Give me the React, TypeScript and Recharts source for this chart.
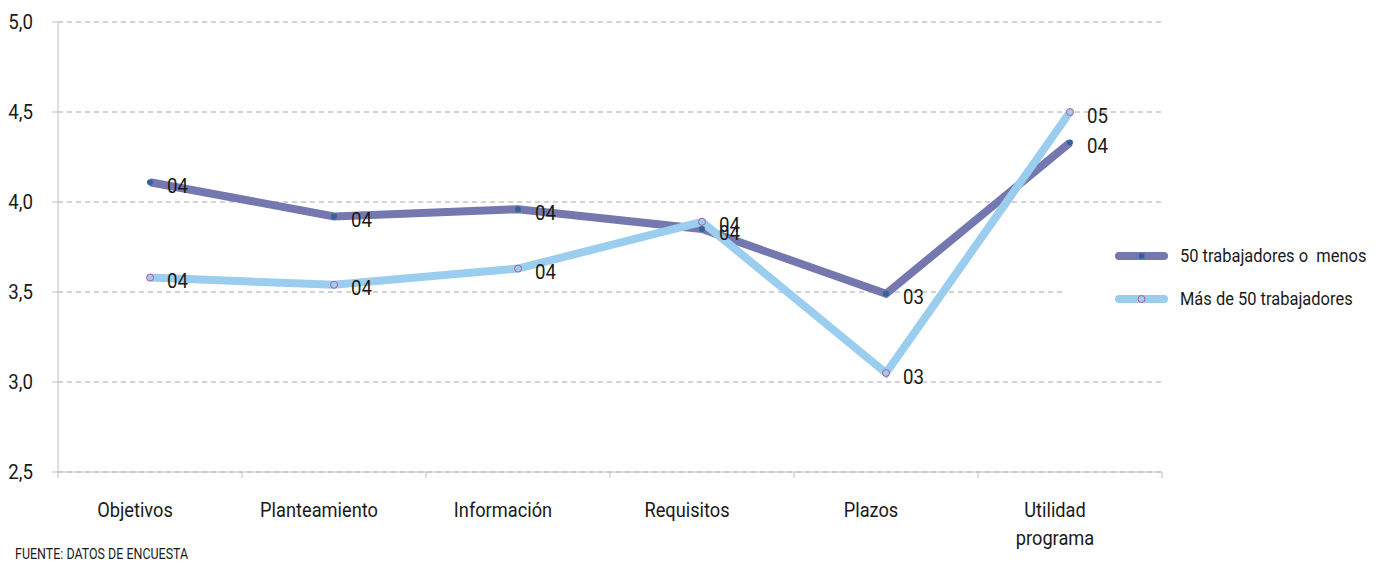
import React from 'react';
import { LineChart, Line, XAxis, YAxis, CartesianGrid, Legend, LabelList } from 'recharts';

const categories = ['Objetivos', 'Planteamiento', 'Información', 'Requisitos', 'Plazos', 'Utilidad programa'];
const smallCompanies = [4.11, 3.92, 3.96, 3.85, 3.49, 4.33];
const largeCompanies = [3.58, 3.54, 3.63, 3.89, 3.05, 4.5];
const yTicks = [2.5, 3.0, 3.5, 4.0, 4.5, 5.0];
const seriesNames = ['50 trabajadores o  menos', 'Más de 50 trabajadores'];
const sourceNote = 'FUENTE: DATOS DE ENCUESTA';

const data = categories.map((c, i) => ({ name: c, small: smallCompanies[i], large: largeCompanies[i] }));

const FONT = 'Roboto, "Liberation Sans", sans-serif';
const SX = 0.89;
const DARK = '#7578AE';
const LIGHT = '#9ACDEE';
const DARK_DOT = '#2F6598';
const PINK = '#B45C9A';
const AXIS = '#BFBFBF';
const INK = '#1a1a1a';

const W = 1382;
const H = 563;
const M = { top: 22, right: 220, left: 0, bottom: 0 };
const Y_W = 58;
const X_H = 91;
const plotW = W - M.left - M.right - Y_W;

const fmt2 = (v: number) => String(Math.round(v)).padStart(2, '0');

const NarrowText = ({ x, y, anchor = 'start', size = 21, children }: any) => (
  <text
    transform={`translate(${x},${y}) scale(${SX},1)`}
    x={0}
    y={0}
    textAnchor={anchor}
    fontFamily={FONT}
    fontSize={size}
    fill={INK}
  >
    {children}
  </text>
);

const XTick = (props: any) => {
  const { x, y, payload, index } = props;
  const half = plotW / categories.length / 2;
  const axisY = y - 8;
  const cx = x - 15;
  const words = String(payload.value).split(' ');
  return (
    <g>
      <line x1={x - half} y1={axisY} x2={x - half} y2={axisY + 6} stroke={AXIS} strokeWidth={1} />
      {index === categories.length - 1 && (
        <line x1={x + half} y1={axisY} x2={x + half} y2={axisY + 6} stroke={AXIS} strokeWidth={1} />
      )}
      {words.map((w, i) => (
        <NarrowText key={i} x={cx} y={axisY + 45 + i * 28} anchor="middle" size={20.5}>
          {w}
        </NarrowText>
      ))}
    </g>
  );
};

const YTick = (props: any) => {
  const { x, y, payload } = props;
  return (
    <NarrowText x={x} y={y + 7} anchor="end">
      {Number(payload.value).toFixed(1).replace('.', ',')}
    </NarrowText>
  );
};

const ValueLabel = (props: any) => {
  const { x, y, value } = props;
  return (
    <NarrowText x={x + 17} y={y + 10.5}>
      {fmt2(value)}
    </NarrowText>
  );
};

const SmallDot = (props: any) => {
  const { cx, cy } = props;
  if (cx == null || cy == null) return null;
  return <circle cx={cx} cy={cy} r={3} fill={DARK_DOT} stroke="none" />;
};

const LargeDot = (props: any) => {
  const { cx, cy } = props;
  if (cx == null || cy == null) return null;
  return <circle cx={cx} cy={cy} r={3.5} fill={LIGHT} stroke={PINK} strokeWidth={1} />;
};

const LegendContent = () => {
  const rows = [
    { name: seriesNames[0], color: DARK, dot: <circle cx={26.5} cy={7} r={3} fill={DARK_DOT} /> },
    { name: seriesNames[1], color: LIGHT, dot: <circle cx={26.5} cy={7} r={3.5} fill={LIGHT} stroke={PINK} strokeWidth={1} /> },
  ];
  return (
    <div style={{ background: '#fff', width: '100%', height: '100%', paddingTop: 12, boxSizing: 'border-box', overflow: 'visible' }}>
      {rows.map((r) => (
        <div key={r.name} style={{ display: 'flex', alignItems: 'center', height: 43, paddingLeft: 53, overflow: 'visible' }}>
          <svg width={56} height={14} style={{ marginRight: 9, flex: 'none' }}>
            <line x1={4} y1={7} x2={49} y2={7} stroke={r.color} strokeWidth={8} strokeLinecap="round" />
            {r.dot}
          </svg>
          <span
            style={{
              flex: 'none',
              fontFamily: FONT,
              fontSize: 18.5,
              color: INK,
              whiteSpace: 'pre',
              display: 'inline-block',
              transform: `scaleX(${SX})`,
              transformOrigin: 'left center',
            }}
          >
            {r.name}
          </span>
        </div>
      ))}
    </div>
  );
};

export default function App() {
  return (
    <div style={{ position: 'absolute', left: 0, top: 0, width: W, height: H, background: '#fff' }}>
      <LineChart width={W} height={H} data={data} margin={M}>
        <CartesianGrid vertical={false} stroke="#A6A6A6" strokeDasharray="5 4" />
        <XAxis
          dataKey="name"
          scale="band"
          height={X_H}
          stroke={AXIS}
          tickLine={false}
          tick={<XTick />}
          interval={0}
        />
        <YAxis
          width={Y_W}
          domain={[2.5, 5]}
          ticks={yTicks}
          stroke={AXIS}
          tickSize={6}
          tickMargin={19}
          tick={<YTick />}
        />
        <Legend
          layout="horizontal"
          verticalAlign="middle"
          align="center"
          content={<LegendContent />}
          wrapperStyle={{ left: 1062, top: 222, width: 320, height: 110, overflow: 'visible' }}
        />
        <Line
          type="linear"
          dataKey="small"
          name={seriesNames[0]}
          stroke={DARK}
          strokeWidth={8}
          dot={<SmallDot />}
          activeDot={false}
          isAnimationActive={false}
        >
          <LabelList dataKey="small" content={<ValueLabel />} />
        </Line>
        <Line
          type="linear"
          dataKey="large"
          name={seriesNames[1]}
          stroke={LIGHT}
          strokeWidth={8}
          dot={<LargeDot />}
          activeDot={false}
          isAnimationActive={false}
        >
          <LabelList dataKey="large" content={<ValueLabel />} />
        </Line>
      </LineChart>
      <div
        style={{
          position: 'absolute',
          left: 15,
          top: 546,
          fontFamily: FONT,
          fontSize: 14,
          color: INK,
          whiteSpace: 'nowrap',
          transform: `scaleX(${SX})`,
          transformOrigin: 'left center',
        }}
      >
        {sourceNote}
      </div>
    </div>
  );
}
